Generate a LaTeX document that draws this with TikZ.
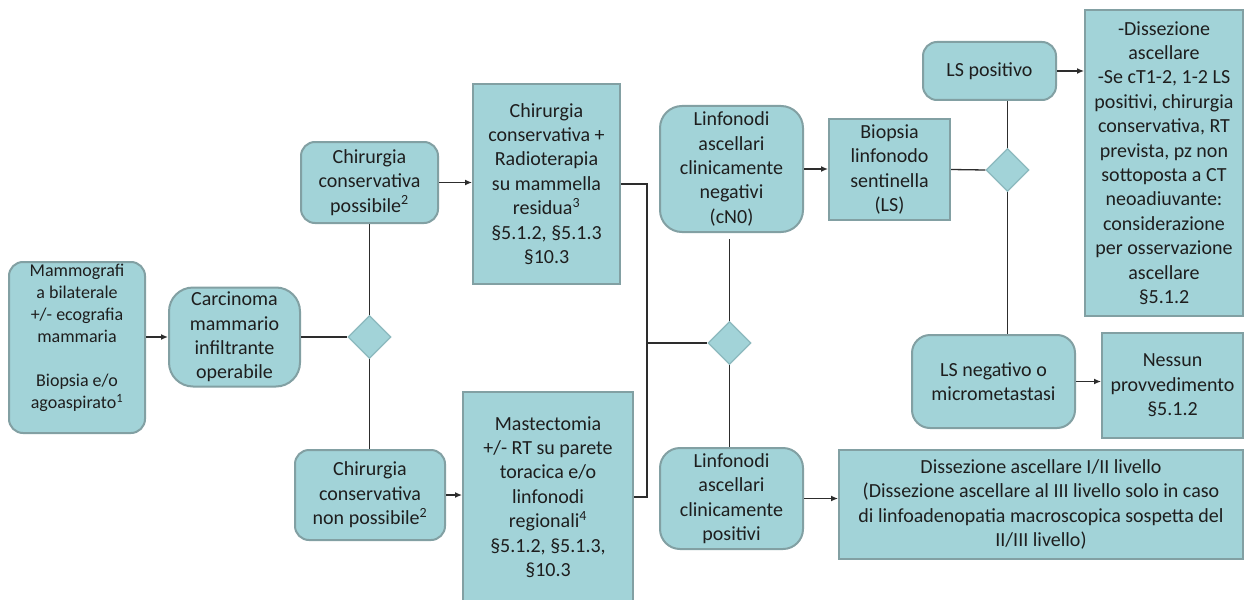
\documentclass[tikz,border=0pt]{standalone}
\usepackage{fontspec}
\setmainfont{Carlito}
\usetikzlibrary{arrows.meta,shapes.geometric}
\definecolor{boxfill}{RGB}{162,211,216}
\definecolor{boxline}{RGB}{130,160,163}
\definecolor{dialine}{RGB}{140,185,190}
\definecolor{conncol}{RGB}{45,45,45}
\definecolor{txtcol}{RGB}{30,30,30}
\begin{document}
\begin{tikzpicture}[x=1pt,y=-1pt,
  base/.style={fill=boxfill, draw=boxline, line width=2pt, text=txtcol, align=center, inner sep=0pt, font=\fontsize{20}{24.4}\selectfont},
  rbox/.style={base, rounded corners=14pt},
  sbox/.style={base},
  dia/.style={diamond, fill=boxfill, draw=dialine, line width=1.2pt, minimum width=43pt, minimum height=43pt, inner sep=0pt},
  conn/.style={draw=conncol, line width=1.3pt},
  arr/.style={conn, -{Latex[length=7pt,width=6pt]}}
]
\fill[white] (0,0) rectangle (1246,599);
\useasboundingbox (0,0) rectangle (1246,599);

\node[rbox, minimum width=136pt, minimum height=171pt, font=\fontsize{18}{22}\selectfont] (mammo) at (77,347.5)
  {Mammografi\\a bilaterale\\+/- ecografia\\mammaria\\\mbox{}\\Biopsia e/o\\agoaspirato\textsuperscript{1}\\\mbox{}};
\node[rbox, rounded corners=24pt, minimum width=131pt, minimum height=99pt] (carc) at (234.5,337)
  {Carcinoma\\mammario\\infiltrante\\operabile};
\node[dia] (d1) at (369.5,337) {};
\node[rbox, minimum width=137pt, minimum height=81pt] (poss) at (369.5,182.5)
  {Chirurgia\\conservativa\\possibile\textsuperscript{2}};
\node[rbox, minimum width=150pt, minimum height=90pt] (nonposs) at (370,495)
  {Chirurgia\\conservativa\\non possibile\textsuperscript{2}};
\node[sbox, minimum width=147pt, minimum height=200pt] (chirt) at (546.5,184)
  {Chirurgia\\conservativa +\\Radioterapia\\su mammella\\residua\textsuperscript{3}\\§5.1.2, §5.1.3\\§10.3};
\node[sbox, minimum width=170pt, minimum height=210pt] (mast) at (548,497)
  {Mastectomia\\+/- RT su parete\\toracica e/o\\linfonodi\\regionali\textsuperscript{4}\\§5.1.2, §5.1.3,\\§10.3};
\coordinate (j) at (647,343);
\node[dia] (d2) at (729.5,343) {};
\node[rbox, rounded corners=22pt, minimum width=143pt, minimum height=126pt] (cn0) at (731.5,169)
  {Linfonodi\\ascellari\\clinicamente\\negativi\\(cN0)};
\node[rbox, rounded corners=20pt, minimum width=143pt, minimum height=101pt] (cnp) at (731.5,498.5)
  {Linfonodi\\ascellari\\clinicamente\\positivi};
\node[sbox, minimum width=404pt, minimum height=109pt] (diss) at (1041,504.5)
  {Dissezione ascellare I/II livello\\(Dissezione ascellare al III livello solo in caso\\di linfoadenopatia macroscopica sospetta del\\II/III livello)};
\node[sbox, minimum width=121pt, minimum height=101pt] (biop) at (889.5,169.5)
  {Biopsia\\linfonodo\\sentinella\\(LS)};
\node[dia] (d3) at (1007.5,170) {};
\node[rbox, minimum width=133pt, minimum height=58pt] (lsp) at (989.5,71)
  {LS positivo};
\node[sbox, minimum width=158pt, minimum height=306pt] (disa) at (1164,163)
  {-Dissezione\\ascellare\\-Se cT1-2, 1-2 LS\\positivi, chirurgia\\conservativa, RT\\prevista, pz non\\sottoposta a CT\\neoadiuvante:\\considerazione\\per osservazione\\ascellare\\§5.1.2};
\node[rbox, rounded corners=18pt, minimum width=163pt, minimum height=93pt] (lsn) at (993.5,381.5)
  {LS negativo o\\micrometastasi};
\node[sbox, minimum width=141pt, minimum height=105pt] (ness) at (1172.5,385.5)
  {Nessun\\provvedimento\\§5.1.2};

% connectors
\draw[arr] (mammo.east |- carc.west) -- (carc.west);
\draw[conn] (carc.east) -- (d1.west);
\draw[conn] (d1.north) -- (d1.north |- poss.south);
\draw[conn] (d1.south) -- (d1.south |- nonposs.north);
\draw[arr] (poss.east) -- (poss.east -| chirt.west);
\draw[arr] (nonposs.east) -- (nonposs.east -| mast.west);
\draw[conn] (chirt.east) -| (j) |- (mast.east);
\draw[conn] (j) -- (d2.west);
\draw[conn, shorten >=6pt] (d2.north) -- (d2.north |- cn0.south);
\draw[conn] (d2.south) -- (d2.south |- cnp.north);
\draw[arr] (cnp.east) -- (cnp.east -| diss.west);
\draw[arr] (cn0.east) -- (cn0.east -| biop.west);
\draw[conn] (biop.east) -- (d3.west);
\draw[conn] (d3.north) -- (d3.north |- lsp.south);
\draw[conn] (d3.south) -- (d3.south |- lsn.north);
\draw[arr] (lsp.east) -- (lsp.east -| disa.west);
\draw[arr] (lsn.east) -- (lsn.east -| ness.west);
\end{tikzpicture}
\end{document}
